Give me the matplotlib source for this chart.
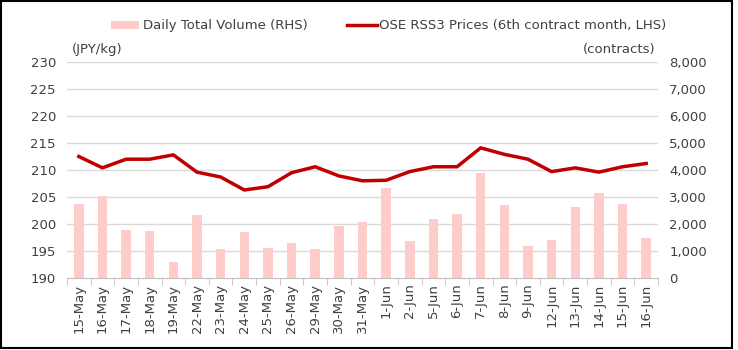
import matplotlib
matplotlib.use("Agg")
import matplotlib.pyplot as plt
from matplotlib.patches import Rectangle
import numpy as np

dates = ["15-May", "16-May", "17-May", "18-May", "19-May", "22-May", "23-May", "24-May",
         "25-May", "26-May", "29-May", "30-May", "31-May", "1-Jun", "2-Jun", "5-Jun",
         "6-Jun", "7-Jun", "8-Jun", "9-Jun", "12-Jun", "13-Jun", "14-Jun", "15-Jun", "16-Jun"]
volume = [2750, 3040, 1770, 1730, 580, 2350, 1080, 1690, 1120, 1280, 1080, 1940, 2090,
          3320, 1370, 2170, 2380, 3900, 2720, 1200, 1410, 2630, 3160, 2750, 1480]
price = [212.5, 210.4, 212.0, 212.0, 212.8, 209.6, 208.7, 206.3, 206.9, 209.5, 210.6,
         208.9, 208.0, 208.1, 209.7, 210.6, 210.6, 214.1, 212.9, 212.0, 209.7, 210.4,
         209.6, 210.6, 211.2]

plt.rcParams['font.family'] = ['DejaVu Sans']
FS = 9.5
fig = plt.figure(figsize=(7.38, 3.5), dpi=100)
ax = fig.add_axes([67/738, 1-278/350, 591/738, 216/350])
ax2 = ax.twinx()

x = np.arange(len(dates))
ax2.bar(x, volume, width=0.4, color="#FFCCCC", zorder=2)
ax2.set_ylim(0, 8000)
ax2.set_yticks(range(0, 8001, 1000))
ax2.set_yticklabels([f"{v:,}" for v in range(0, 8001, 1000)])

ax.plot(x, price, color="#C00000", lw=2.5, zorder=3)
ax.set_ylim(190, 230)
ax.set_yticks(range(190, 231, 5))
ax.set_xlim(-0.5, len(dates)-0.5)

ax.set_zorder(ax2.get_zorder()+1)
ax.patch.set_visible(False)

for a in (ax, ax2):
    for s in a.spines.values():
        s.set_visible(False)
    a.tick_params(axis='y', length=0, labelsize=FS, colors="#404040", pad=8)
ax.spines['bottom'].set_visible(True)
ax.spines['bottom'].set_color("#BFBFBF")
for v in range(195, 231, 5):
    ax2.axhline((v-190)*200, color="#D9D9D9", lw=1, zorder=0)

ax.set_xticks(x)
ax.set_xticklabels(dates, rotation=90, fontsize=FS, color="#404040")
ax.tick_params(axis='x', length=0, pad=4)
ax.set_xticks(np.arange(-0.5, len(dates), 1), minor=True)
ax.tick_params(axis='x', which='minor', length=5, color="#BFBFBF")

fig.text(72/738, 1-50/350, "(JPY/kg)", fontsize=FS, color="#404040", va='center', ha='left')
fig.text(656/738, 1-50/350, "(contracts)", fontsize=FS, color="#404040", va='center', ha='right')

# legend
fig.patches.append(Rectangle((111/738, 1-29/350), 28/738, 8/350, transform=fig.transFigure,
                             facecolor="#FFCCCC", edgecolor='none'))
fig.text(143/738, 1-25/350, "Daily Total Volume (RHS)", fontsize=FS, color="#404040", va='center', ha='left')
fig.lines.append(plt.Line2D([347/738, 377/738], [1-25/350, 1-25/350], transform=fig.transFigure,
                            color="#C00000", lw=2.5))
fig.text(379/738, 1-25/350, "OSE RSS3 Prices (6th contract month, LHS)", fontsize=FS, color="#404040", va='center', ha='left')

# border
fig.patches.append(Rectangle((1/738, 2/350), 731/738, 347/350, transform=fig.transFigure,
                             facecolor='none', edgecolor='black', lw=1.5))

fig.savefig("out.png", dpi=100)
